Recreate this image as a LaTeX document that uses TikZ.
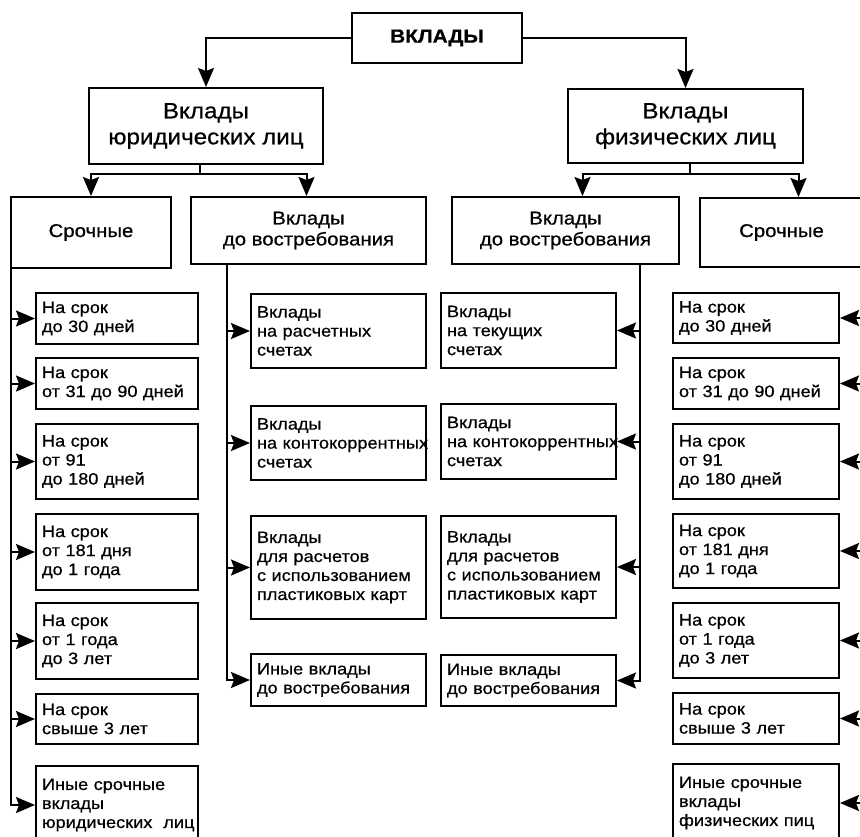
\documentclass[tikz,border=0pt]{standalone}
\usepackage{fontspec}
\setmainfont{Liberation Sans}[FakeStretch=1.1,FakeBold=0.6]
\usetikzlibrary{arrows.meta,calc}
\begin{document}
\begin{tikzpicture}[x=1pt,y=-1pt,
  box/.style={draw, line width=2pt, anchor=north west, inner xsep=6pt, inner ysep=0pt},
  small/.style={box, align=left, font=\fontsize{16.5}{19}\selectfont},
  lcol/.style={small, text width=150pt},
  mcol/.style={small, text width=163pt},
  rcol/.style={small, text width=154pt},
  mid/.style={box, align=center, font=\fontsize{18.5}{21}\selectfont},
  big/.style={box, align=center, font=\fontsize{22}{26}\selectfont},
  title/.style={box, align=center, font=\bfseries\fontsize{19}{22}\selectfont},
  conn/.style={line width=2pt},
  arr/.style={conn, -{Stealth[length=19pt,width=16pt,inset=3pt]}}
]
\clip (0,0) rectangle (860,836);
\fill[white] (0,0) rectangle (860,836);

% top
\node[title, minimum width=170pt, minimum height=50pt] (top) at (351,12) {ВКЛАДЫ};
\node[big, minimum width=234pt, minimum height=76pt] (ju) at (88,87) {Вклады\\юридических лиц};
\node[big, minimum width=235pt, minimum height=74pt] (ph) at (567,88) {Вклады\\физических лиц};

% level 2
\node[mid, minimum width=160pt, minimum height=71pt] (sl) at (10,196) {Срочные};
\node[mid, minimum width=235pt, minimum height=67pt] (dl) at (190,196) {Вклады\\до востребования};
\node[mid, minimum width=227pt, minimum height=67pt] (dr) at (451,196) {Вклады\\до востребования};
\node[mid, minimum width=163pt, minimum height=69pt] (sr) at (699,197) {Срочные};

% left column
\node[lcol, minimum height=51pt] (l1) at (35,292) {На срок\\до 30 дней};
\node[lcol, minimum height=51pt] (l2) at (35,357) {На срок\\от 31 до 90 дней};
\node[lcol, minimum height=75pt] (l3) at (35,423) {На срок\\от 91\\до 180 дней};
\node[lcol, minimum height=76pt] (l4) at (35,513) {На срок\\от 181 дня\\до 1 года};
\node[lcol, minimum height=76pt] (l5) at (35,602) {На срок\\от 1 года\\до 3 лет};
\node[lcol, minimum height=50pt] (l6) at (35,693) {На срок\\свыше 3 лет};
\node[lcol, minimum height=78pt] (l7) at (35,765) {Иные срочные\\вклады\\\mbox{юридических\ \ лиц}};

% middle-left column
\node[mcol, minimum height=74pt] (m1) at (250,293) {Вклады\\на расчетных\\счетах};
\node[mcol, minimum height=74pt] (m2) at (250,405) {Вклады\\\mbox{на контокоррентных}\\счетах};
\node[mcol, minimum height=103pt] (m3) at (250,515) {Вклады\\для расчетов\\с использованием\\пластиковых карт};
\node[mcol, minimum height=52pt] (m4) at (250,653) {Иные вклады\\до востребования};

% middle-right column
\node[mcol, minimum height=75pt] (n1) at (440,292) {Вклады\\на текущих\\счетах};
\node[mcol, minimum height=75pt] (n2) at (440,403) {Вклады\\\mbox{на контокоррентных}\\счетах};
\node[mcol, minimum height=102pt] (n3) at (440,515) {Вклады\\для расчетов\\с использованием\\пластиковых карт};
\node[mcol, minimum height=51pt] (n4) at (440,654) {Иные вклады\\до востребования};

% right column
\node[rcol, minimum height=50pt] (r1) at (672,292) {На срок\\до 30 дней};
\node[rcol, minimum height=51pt] (r2) at (672,357) {На срок\\от 31 до 90 дней};
\node[rcol, minimum height=75pt] (r3) at (672,423) {На срок\\от 91\\до 180 дней};
\node[rcol, minimum height=74pt] (r4) at (672,513) {На срок\\от 181 дня\\до 1 года};
\node[rcol, minimum height=75pt] (r5) at (672,602) {На срок\\от 1 года\\до 3 лет};
\node[rcol, minimum height=51pt] (r6) at (672,692) {На срок\\свыше 3 лет};
\node[rcol, minimum height=78pt] (r7) at (672,763) {Иные срочные\\вклады\\физических пиц};

% connectors: top level
\draw[arr] (top.west) -| (ju.north);
\draw[arr] (top.east) -| (ph.north);

\coordinate (ja) at ($(ju.south)+(-6,9)$);
\draw[conn] ($(ju.south)+(-6,0)$) -- (ja);
\draw[arr] (ja) -| (sl.north);
\draw[arr] (ja) -| ([xshift=-2pt]dl.north);

\coordinate (pa) at ($(ph.south)+(4,10)$);
\draw[conn] ($(ph.south)+(4,0)$) -- (pa);
\draw[arr] (pa) -| ([xshift=17pt]dr.north);
\draw[arr] (pa) -| ([xshift=17pt]sr.north);

% left column connectors
\draw[arr] ([xshift=1pt]sl.south west) |- (l7.west);
\foreach \i in {1,...,6}
  \draw[arr] ([xshift=1pt]sl.south west |- l\i.west) -- (l\i.west);

% middle-left connectors
\coordinate (dlx) at ($(dl.south west)+(37,0)$);
\draw[arr] (dlx) |- (m4.west);
\foreach \i in {1,...,3}
  \draw[arr] (dlx |- m\i.west) -- (m\i.west);

% middle-right connectors
\coordinate (drx) at ($(dr.south east)+(-40,0)$);
\draw[arr] (drx) |- (n4.east);
\foreach \i in {1,...,3}
  \draw[arr] (drx |- n\i.east) -- (n\i.east);

% right column connectors
\draw[arr] (sr.south east) |- (r7.east);
\foreach \i in {1,...,6}
  \draw[arr] (sr.south east |- r\i.east) -- (r\i.east);
\end{tikzpicture}
\end{document}
